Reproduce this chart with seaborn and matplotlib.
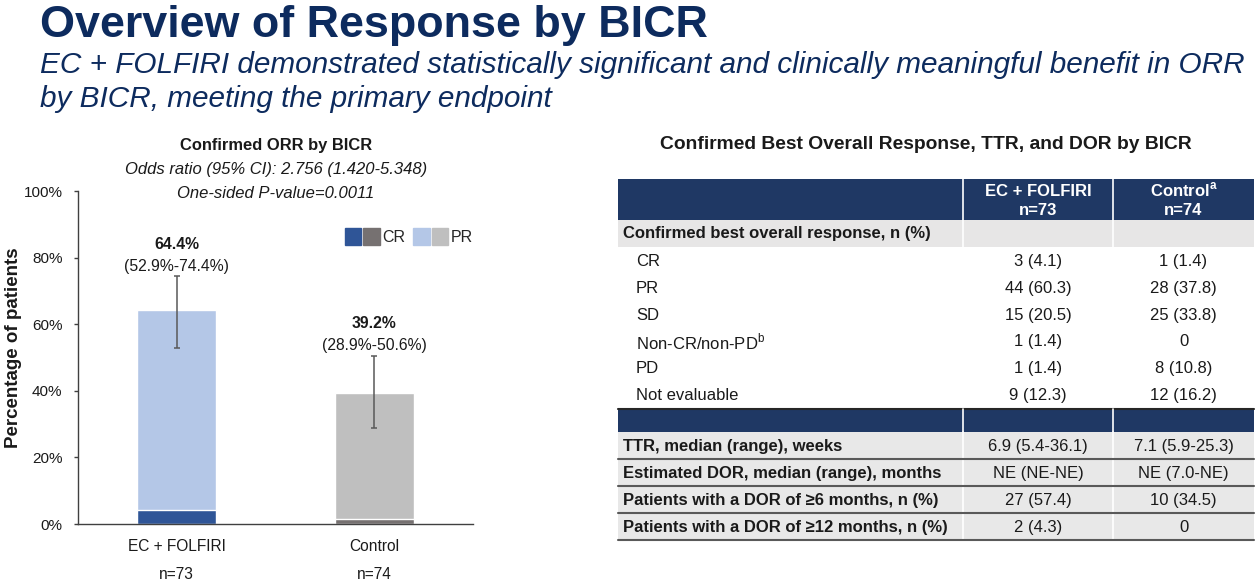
import matplotlib
matplotlib.use("Agg")
import matplotlib.pyplot as plt
import seaborn as sns
import pandas as pd
from matplotlib.patches import Rectangle
from matplotlib.legend_handler import HandlerTuple

# ---------------- data ----------------
arms = ["EC + FOLFIRI", "Control"]
arm_n = ["n=73", "n=74"]
orr = [64.4, 39.2]
cr_pct = [4.1, 1.4]
ci_low = [52.9, 28.9]
ci_high = [74.4, 50.6]

bor_labels = ["CR", "PR", "SD", "Non-CR/non-PD$^{\\mathregular{b}}$", "PD", "Not evaluable"]
ec_bor = ["3 (4.1)", "44 (60.3)", "15 (20.5)", "1 (1.4)", "1 (1.4)", "9 (12.3)"]
ctrl_bor = ["1 (1.4)", "28 (37.8)", "25 (33.8)", "0", "8 (10.8)", "12 (16.2)"]
other_labels = ["TTR, median (range), weeks",
                "Estimated DOR, median (range), months",
                "Patients with a DOR of \u22656 months, n (%)",
                "Patients with a DOR of \u226512 months, n (%)"]
ec_other = ["6.9 (5.4-36.1)", "NE (NE-NE)", "27 (57.4)", "2 (4.3)"]
ctrl_other = ["7.1 (5.9-25.3)", "NE (7.0-NE)", "10 (34.5)", "0"]

# ---------------- style ----------------
sns.set_style("white")
plt.rcParams["font.family"] = ["Liberation Sans", "DejaVu Sans"]
plt.rcParams["mathtext.fontset"] = "custom"
plt.rcParams["mathtext.rm"] = "Liberation Sans"
plt.rcParams["mathtext.bf"] = "Liberation Sans:bold"

NAVY_TXT = "#0D2B5E"
NAVY = "#1F3864"
CR_COL = ["#2F5597", "#767171"]
PR_COL = ["#B4C7E7", "#BFBFBF"]
TXT = "#1A1A1A"
AXC = "#404040"

W, H = 1260, 585
fig = plt.figure(figsize=(W / 100, H / 100), dpi=100)

def fx(px):
    return px / W

def fy(py):
    return 1 - py / H

# ---------------- titles ----------------
fig.text(fx(40), fy(37), "Overview of Response by BICR", fontsize=32.3, fontweight="bold",
         color=NAVY_TXT, va="baseline", ha="left")
fig.text(fx(40), fy(73), "EC + FOLFIRI demonstrated statistically significant and clinically meaningful benefit in ORR",
         fontsize=21.4, style="italic", color=NAVY_TXT, va="baseline", ha="left")
fig.text(fx(40), fy(107), "by BICR, meeting the primary endpoint",
         fontsize=21.4, style="italic", color=NAVY_TXT, va="baseline", ha="left")

# ---------------- bar chart ----------------
ax = fig.add_axes([fx(78), fy(524), fx(473) - fx(78), (524 - 191) / H])
df = pd.DataFrame({"arm": arms, "orr": orr, "cr": cr_pct})
sns.barplot(data=df, x="arm", y="orr", hue="arm", palette=PR_COL, width=0.4,
            legend=False, ax=ax, saturation=1)
sns.barplot(data=df, x="arm", y="cr", hue="arm", palette=CR_COL, width=0.4,
            legend=False, ax=ax, saturation=1)
xs = list(range(len(arms)))
ax.errorbar(xs, orr, yerr=[[o - l for o, l in zip(orr, ci_low)], [h - o for o, h in zip(orr, ci_high)]],
            fmt="none", ecolor="#595959", elinewidth=1.1, capsize=2.5, capthick=1.1)
for x, o, lo, hi in zip(xs, orr, ci_low, ci_high):
    ax.annotate(f"({lo}%-{hi}%)", (x, hi), xytext=(0, 4), textcoords="offset points",
                ha="center", va="baseline", fontsize=11.3, color=TXT)
    ax.annotate(f"{o}%", (x, hi), xytext=(0, 19.5), textcoords="offset points",
                ha="center", va="baseline", fontsize=11.3, fontweight="bold", color=TXT)

ax.set_xlim(-0.5, 1.5)
ax.set_ylim(0, 100)
ax.set_yticks(range(0, 101, 20))
ax.set_yticklabels([f"{v}%" for v in range(0, 101, 20)], fontsize=11, color=TXT)
ax.set_xticks(xs)
ax.set_xticklabels([f"{a}\n{n}" for a, n in zip(arms, arm_n)], fontsize=11.2, color=TXT, linespacing=2.05)
ax.tick_params(axis="x", length=0, pad=11)
ax.tick_params(axis="y", length=3.2, width=1.0, color=AXC, direction="out", pad=8, left=True)
ax.set_xlabel("")
ax.set_ylabel("Percentage of patients", fontsize=13.5, fontweight="bold", color=TXT)
ax.yaxis.set_label_coords(-0.142, 0.53)
for s in ["top", "right"]:
    ax.spines[s].set_visible(False)
for s in ["left", "bottom"]:
    ax.spines[s].set_color(AXC)
    ax.spines[s].set_linewidth(1.0)
ax.set_facecolor("white")

# legend
h_cr = tuple(Rectangle((0, 0), 1, 1, color=c) for c in CR_COL)
h_pr = tuple(Rectangle((0, 0), 1, 1, color=c) for c in PR_COL)
ax.legend([h_cr, h_pr], ["CR", "PR"], handler_map={tuple: HandlerTuple(ndivide=None, pad=0.12)},
          ncol=2, frameon=False, fontsize=11.5, handlelength=2.2, handleheight=1.25,
          handletextpad=0.15, columnspacing=0.5, loc="upper right", borderpad=0,
          bbox_to_anchor=(1.0, 0.889), borderaxespad=0)

fig.text(fx(276), fy(150), "Confirmed ORR by BICR", fontsize=11.9, fontweight="bold", color=TXT,
         ha="center", va="baseline")
fig.text(fx(276), fy(174), "Odds ratio (95% CI): 2.756 (1.420-5.348)", fontsize=12, style="italic",
         color=TXT, ha="center", va="baseline")
fig.text(fx(276), fy(198), "One-sided P-value=0.0011", fontsize=12, style="italic",
         color=TXT, ha="center", va="baseline")

# ---------------- table ----------------
tx = fig.add_axes([0, 0, 1, 1], facecolor="none")
tx.set_xlim(0, W)
tx.set_ylim(H, 0)
tx.axis("off")

L, C1, C2, R = 618, 963, 1113, 1254
cx1, cx2 = (C1 + C2) / 2, (C2 + R) / 2
FS = 12

tx.text(926, 149, "Confirmed Best Overall Response, TTR, and DOR by BICR", fontsize=13.9,
        fontweight="bold", color=TXT, ha="center", va="baseline")

# header
tx.add_patch(Rectangle((L, 179), R - L, 41, color=NAVY, lw=0))
tx.text(cx1, 196, "EC + FOLFIRI", fontsize=FS, fontweight="bold", color="white", ha="center", va="baseline")
tx.text(cx1, 215, "n=73", fontsize=FS, fontweight="bold", color="white", ha="center", va="baseline")
tx.text(cx2, 196, "Control$^{\\mathbf{a}}$", fontsize=FS, fontweight="bold", color="white", ha="center", va="baseline")
tx.text(cx2, 215, "n=74", fontsize=FS, fontweight="bold", color="white", ha="center", va="baseline")

# section row
tx.add_patch(Rectangle((L, 220), R - L, 27, color="#E7E6E6", lw=0))
tx.text(623, 238, "Confirmed best overall response, n (%)", fontsize=FS, fontweight="bold", color=TXT,
        ha="left", va="baseline")
for cx in (C1, C2):
    tx.plot([cx, cx], [179, 247], color="white", lw=1.2)

top, bot = 247, 408
rh = (bot - top) / len(bor_labels)
for i, (lab, a, b) in enumerate(zip(bor_labels, ec_bor, ctrl_bor)):
    yc = top + rh * (i + 0.5) + 1
    tx.text(636, yc, lab, fontsize=FS, color=TXT, ha="left", va="center")
    tx.text(cx1, yc, a, fontsize=FS, color=TXT, ha="center", va="center")
    tx.text(cx2, yc, b, fontsize=FS, color=TXT, ha="center", va="center")

# navy band
tx.add_patch(Rectangle((L, 409), R - L, 23, color=NAVY, lw=0))
tx.plot([L, R], [408.5, 408.5], color="#262626", lw=1.5)
for cx in (C1, C2):
    tx.plot([cx, cx], [409, 432], color="white", lw=1.2)

top2, bot2 = 432, 540
rh2 = (bot2 - top2) / len(other_labels)
for i, (lab, a, b) in enumerate(zip(other_labels, ec_other, ctrl_other)):
    y0 = top2 + rh2 * i
    yc = y0 + rh2 / 2 + 1
    tx.add_patch(Rectangle((L, y0), R - L, rh2, color="#E8E8E8", lw=0))
    tx.text(623, yc, lab, fontsize=FS, fontweight="bold", color=TXT, ha="left", va="center")
    tx.text(cx1, yc, a, fontsize=FS, color=TXT, ha="center", va="center")
    tx.text(cx2, yc, b, fontsize=FS, color=TXT, ha="center", va="center")
for cx in (C1, C2):
    tx.plot([cx, cx], [432, 540], color="white", lw=1.2)
for i in range(len(other_labels)):
    y = top2 + rh2 * (i + 1)
    tx.plot([L, R], [y, y], color="#595959", lw=1.5)

fig.savefig("out.png", dpi=100, facecolor="white")
